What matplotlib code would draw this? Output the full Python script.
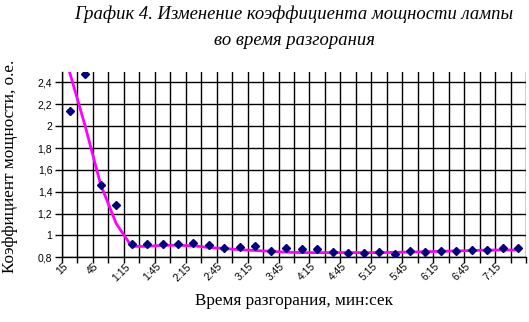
import matplotlib
matplotlib.use("Agg")
import matplotlib.pyplot as plt
from matplotlib.ticker import FixedLocator, NullFormatter

# ---- data ----
time_labels = ["15", "30", "45", "1:00", "1:15", "1:30", "1:45", "2:00", "2:15", "2:30",
               "2:45", "3:00", "3:15", "3:30", "3:45", "4:00", "4:15", "4:30", "4:45", "5:00",
               "5:15", "5:30", "5:45", "6:00", "6:15", "6:30", "6:45", "7:00", "7:15", "7:30"]
measured = [2.14, 2.48, 1.46, 1.28, 0.92, 0.925, 0.92, 0.925, 0.93, 0.915,
            0.885, 0.89, 0.90, 0.86, 0.883, 0.876, 0.876, 0.852, 0.843, 0.843,
            0.852, 0.83, 0.858, 0.852, 0.861, 0.861, 0.867, 0.867, 0.888, 0.883]
trend = [2.49, 2.00, 1.465, 1.11, 0.90, 0.90, 0.91, 0.91, 0.905, 0.89,
         0.88, 0.87, 0.862, 0.855, 0.847, 0.843, 0.843, 0.843, 0.843, 0.843,
         0.843, 0.845, 0.848, 0.851, 0.855, 0.858, 0.862, 0.866, 0.867, 0.867]
y_ticks = [0.8, 1.0, 1.2, 1.4, 1.6, 1.8, 2.0, 2.2, 2.4]
y_tick_labels = ["0,8", "1", "1,2", "1,4", "1,6", "1,8", "2", "2,2", "2,4"]

title_lines = ["График 4. Изменение коэффициента мощности лампы", "во время разгорания"]
xlabel = "Время разгорания, мин:сек"
ylabel = "Коэффициент мощности, о.е."

W, H = 529, 322
fig = plt.figure(figsize=(W / 100, H / 100), dpi=100)
L, R, T, B = 62, 526, 71.5, 257.3
ax = fig.add_axes([L / W, (H - B) / H, (R - L) / W, (B - T) / H])

n = len(time_labels)
x = list(range(n))

ax.plot(x, trend, color="#FF00FF", lw=2.0, zorder=3, solid_joinstyle="round")
ax.plot(x, measured, linestyle="none", marker="D", ms=3.9, color="#000080",
        markeredgecolor="#000080", zorder=4)

ax.set_xlim(-0.5, n - 0.5)
ax.set_ylim(0.8, 2.5)

# x: major ticks at category boundaries (marks + grid), minor at categories (labels)
ax.xaxis.set_major_locator(FixedLocator([i - 0.5 for i in range(n + 1)]))
ax.xaxis.set_major_formatter(NullFormatter())
lab_pos = [i for i in range(0, n, 2)]
ax.xaxis.set_minor_locator(FixedLocator(lab_pos))
ax.set_xticklabels([time_labels[i] for i in lab_pos], minor=True)
ax.tick_params(axis="x", which="major", length=4.5, width=1, color="black", direction="out")
ax.tick_params(axis="x", which="minor", length=0, pad=3, labelsize=7.5)
for lbl in ax.get_xticklabels(minor=True):
    lbl.set_rotation(45)
    lbl.set_ha("right")
    lbl.set_va("top")
    lbl.set_fontfamily("Liberation Sans")

ax.set_yticks(y_ticks)
ax.set_yticklabels(y_tick_labels, fontfamily="Liberation Sans", fontsize=7.5)
ax.tick_params(axis="y", length=5, width=1, color="black", direction="out", pad=2)

ax.grid(True, which="major", color="black", lw=1.0)
ax.set_axisbelow(True)
for s in ["top", "right"]:
    ax.spines[s].set_visible(False)
for s in ["left", "bottom"]:
    ax.spines[s].set_color("black")
    ax.spines[s].set_linewidth(1.0)

cx = ((L + R) / 2) / W
fig.text(cx, 1 - 19 / H, title_lines[0], ha="center", va="baseline",
         fontfamily="Liberation Serif", style="italic", fontsize=13.4)
fig.text(cx, 1 - 45 / H, title_lines[1], ha="center", va="baseline",
         fontfamily="Liberation Serif", style="italic", fontsize=13.4)
fig.text(cx, 1 - 301 / H, xlabel, ha="center", va="center", fontfamily="Liberation Serif",
         fontsize=12.3)
fig.text(10 / W, 1 - 166 / H, ylabel, ha="center", va="center", rotation=90,
         fontfamily="Liberation Serif", fontsize=12.3)

fig.savefig("out.png", dpi=100, facecolor="white")
